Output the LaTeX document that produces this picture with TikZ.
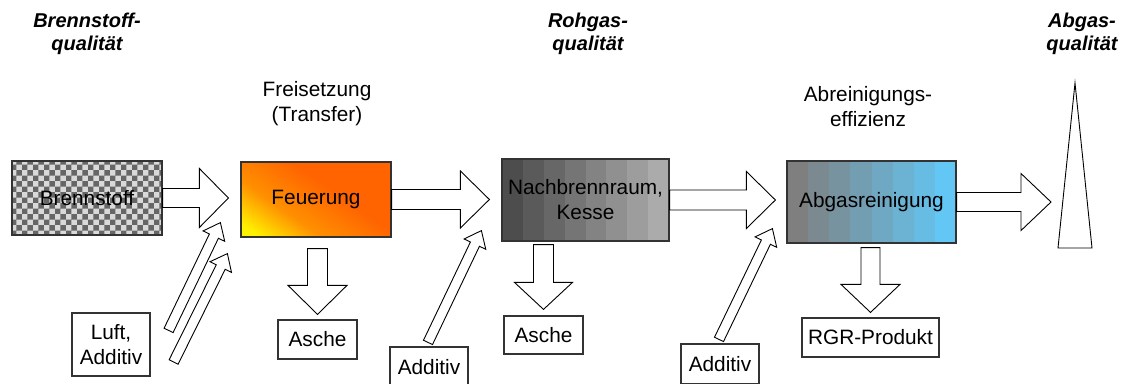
\documentclass[tikz,border=0pt]{standalone}
\usepackage{fontspec}
\setmainfont{Liberation Sans}
\usetikzlibrary{calc}
\usetikzlibrary{patterns}

\definecolor{nachL}{HTML}{4D4D4D}
\definecolor{nachR}{HTML}{ABABAB}
\definecolor{abgL}{HTML}{7F7F7F}
\definecolor{abgR}{HTML}{63C7F5}
\definecolor{feuY}{HTML}{FFF200}
\definecolor{feuM}{HTML}{FF9000}
\definecolor{feuR}{HTML}{FF6400}

\pgfdeclareverticalshading{feuerglow}{100bp}{%
  color(0bp)=(feuY); color(20bp)=(feuY); color(37bp)=(feuM); color(58bp)=(feuR); color(100bp)=(feuR)}

% hollow block arrow: tail, tip, half shaft, half head, head length
\newcommand{\blockarrow}[5]{%
  \coordinate (ba-b) at ($(#2)!#5!(#1)$);
  \draw[flow] ($(#1)!#3!90:(#2)$) -- ($(ba-b)!#3!90:(#2)$) -- ($(ba-b)!#4!90:(#2)$)
    -- (#2) -- ($(ba-b)!#4!-90:(#2)$) -- ($(ba-b)!#3!-90:(#2)$) -- ($(#1)!#3!-90:(#2)$) -- cycle;
}

\tikzset{
  box/.style={draw=black!80, line width=1.2pt, inner sep=0pt, align=center,
    font=\fontsize{20.8}{25}\selectfont},
  title/.style={align=center, font=\fontsize{20}{23}\selectfont\bfseries\itshape},
  note/.style={align=center, font=\fontsize{20.8}{25}\selectfont},
  flow/.style={draw=black, line width=0.9pt, fill=white, line join=miter},
  bands/.style 2 args={path picture={
    \foreach \i in {0,...,7}{
      \pgfmathtruncatemacro\pct{100*\i/7}
      \fill[#2!\pct!#1] ($(path picture bounding box.north west)!\i/8!(path picture bounding box.north east)$)
        rectangle ($(path picture bounding box.south west)!\i/8+1/8!(path picture bounding box.south east)$);
    }}},
}

\begin{document}
\begin{tikzpicture}[x=1pt,y=-1pt]
  \useasboundingbox (0,0) rectangle (1122,383);

  % titles
  \node[title] (brennT) at (87,34) {Brennstoff-\\qualität};
  \node[title] (rohT) at (588,34) {Rohgas-\\qualität};
  \node[title] (abgT) at (1082,34) {Abgas-\\qualität};
  \node[note] (frei) at (317,104) {Freisetzung\\(Transfer)};
  \node[note] (abrein) at (868,107) {Abreinigungs-\\effizienz};

  % main chain
  \node[box, minimum width=150, minimum height=74, preaction={fill=black!15},
    pattern=checkerboard, pattern color=black!60] (brenn) at (87,198) {Brennstoff};
  \node[box, minimum width=150, minimum height=75, shading=feuerglow, shading angle=-35]
    (feuer) at (316,199.5) {Feuerung};
  \node[box, minimum width=167, minimum height=82, bands={nachL}{nachR}] (nach) at (585.5,200)
    {Nachbrennraum,\\Kesse};
  \node[box, minimum width=169, minimum height=82, bands={abgL}{abgR}] (abgas) at (871.5,202)
    {Abgasreinigung};

  % inputs and outputs
  \node[box, minimum width=78, minimum height=63] (luft) at (111,344.5) {Luft,\\Additiv};
  \node[box, minimum width=79, minimum height=39] (asche1) at (317.5,339.5) {Asche};
  \node[box, minimum width=79, minimum height=38] (asche2) at (543.5,335) {Asche};
  \node[box, minimum width=78, minimum height=40] (add1) at (429,367) {Additiv};
  \node[box, minimum width=78, minimum height=40] (add2) at (720,364) {Additiv};
  \node[box, minimum width=137, minimum height=39] (rgr) at (870.5,337.5) {RGR-Produkt};

  % stack
  \draw[flow] (1075,83) -- (1092,248) -- (1058,248) -- cycle;
  \coordinate (stack) at (1063,200);

  % flow arrows
  \coordinate (t1) at ($(feuer.west |- brenn.east)+(-12,0)$);
  \coordinate (t2) at ($(nach.west |- feuer.east)+(-12,0)$);
  \coordinate (t3) at ($(abgas.west |- nach.east)+(-11,0)$);
  \coordinate (t4) at ($(stack |- abgas.east)+(-12,0)$);
  \blockarrow{brenn.east}{t1}{9.5pt}{29.5pt}{29pt}
  \blockarrow{feuer.east}{t2}{10pt}{28.5pt}{29pt}
  \blockarrow{nach.east}{t3}{10pt}{28.5pt}{29pt}
  \blockarrow{abgas.east}{t4}{9.5pt}{28.5pt}{30pt}

  % residues
  \coordinate (d1) at ($(asche1.north |- feuer.south)+(0,11)$);
  \coordinate (e1) at ($(asche1.north)+(0,-5)$);
  \coordinate (d2) at ($(asche2.north |- nach.south)+(0,3)$);
  \coordinate (e2) at ($(asche2.north)+(0,-6)$);
  \coordinate (d3) at ($(rgr.north |- abgas.south)+(0,4)$);
  \coordinate (e3) at ($(rgr.north)+(0,-5)$);
  \blockarrow{d1}{e1}{10pt}{29.5pt}{29pt}
  \blockarrow{d2}{e2}{10pt}{29pt}{27pt}
  \blockarrow{d3}{e3}{9.5pt}{29.5pt}{28pt}

  % additives
  \coordinate (a1) at ($(luft.north east)+(18,18)$);
  \coordinate (b1) at ($(feuer.south west)+(-20,-15)$);
  \coordinate (a2) at ($(luft.east)+(23,17.5)$);
  \coordinate (b2) at ($(feuer.south west)+(-13,16)$);
  \coordinate (a3) at ($(add1.north)+(-1,-4)$);
  \coordinate (b3) at ($(nach.south west)+(-20,-11)$);
  \coordinate (a4) at ($(add2.north)+(-1,-4)$);
  \coordinate (b4) at ($(abgas.south west)+(-14,-15)$);
  \blockarrow{a1}{b1}{5pt}{12pt}{15pt}
  \blockarrow{a2}{b2}{5pt}{12pt}{15pt}
  \blockarrow{a3}{b3}{5pt}{12pt}{15pt}
  \blockarrow{a4}{b4}{5pt}{12pt}{15pt}
\end{tikzpicture}
\end{document}
